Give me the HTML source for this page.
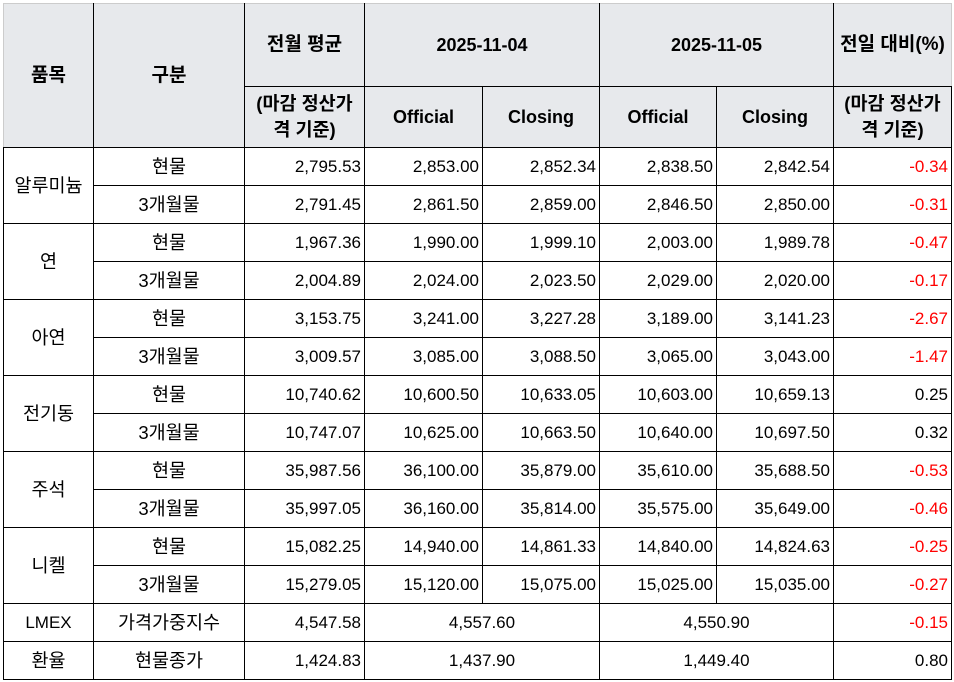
<!DOCTYPE html>
<html><head><meta charset="utf-8"><style>
html,body{margin:0;padding:0;background:#fff;width:954px;height:682px;overflow:hidden}
table{position:absolute;left:3px;top:3px;border-collapse:collapse;table-layout:fixed;width:948px;font-family:"Liberation Sans","Noto Sans CJK KR","NanumGothic",sans-serif;font-size:17px;color:#000}
td{border:1px solid #000;padding:0 3px;height:37px;white-space:nowrap;overflow:hidden;line-height:22px}
.h{background:#e7e9ec;font-weight:bold;text-align:center;font-size:18px}
.c{text-align:center;font-size:18.5px}
.r{text-align:right}
.n{color:#ff0000}
.hd{line-height:26px;font-size:18.5px}
.k{font-size:19px}
</style></head><body>
<table>
<colgroup><col style="width:90px"><col style="width:151px"><col style="width:120px"><col style="width:118px"><col style="width:117px"><col style="width:117px"><col style="width:117px"><col style="width:118px"></colgroup>
<tr><td class="h k" rowspan="2" style="border-top-color:#ccc;border-left-color:#ccc">품목</td><td class="h k" rowspan="2" style="border-top-color:#ccc">구분</td><td class="h k" style="height:82px;border-top-color:#ccc">전월 평균</td><td class="h" colspan="2" style="border-top-color:#ccc">2025-11-04</td><td class="h" colspan="2" style="border-top-color:#ccc">2025-11-05</td><td class="h k" style="border-top-color:#ccc;border-right-color:#ccc">전일 대비(%)</td></tr>
<tr><td class="h hd" style="height:60px;white-space:normal">(마감 정산가<br>격 기준)</td><td class="h">Official</td><td class="h">Closing</td><td class="h">Official</td><td class="h">Closing</td><td class="h hd" style="white-space:normal">(마감 정산가<br>격 기준)</td></tr>
<tr><td class="c" rowspan="2">알루미늄</td><td class="c">현물</td><td class="r">2,795.53</td><td class="r">2,853.00</td><td class="r">2,852.34</td><td class="r">2,838.50</td><td class="r">2,842.54</td><td class="r n">-0.34</td></tr>
<tr><td class="c">3개월물</td><td class="r">2,791.45</td><td class="r">2,861.50</td><td class="r">2,859.00</td><td class="r">2,846.50</td><td class="r">2,850.00</td><td class="r n">-0.31</td></tr>
<tr><td class="c" rowspan="2">연</td><td class="c">현물</td><td class="r">1,967.36</td><td class="r">1,990.00</td><td class="r">1,999.10</td><td class="r">2,003.00</td><td class="r">1,989.78</td><td class="r n">-0.47</td></tr>
<tr><td class="c">3개월물</td><td class="r">2,004.89</td><td class="r">2,024.00</td><td class="r">2,023.50</td><td class="r">2,029.00</td><td class="r">2,020.00</td><td class="r n">-0.17</td></tr>
<tr><td class="c" rowspan="2">아연</td><td class="c">현물</td><td class="r">3,153.75</td><td class="r">3,241.00</td><td class="r">3,227.28</td><td class="r">3,189.00</td><td class="r">3,141.23</td><td class="r n">-2.67</td></tr>
<tr><td class="c">3개월물</td><td class="r">3,009.57</td><td class="r">3,085.00</td><td class="r">3,088.50</td><td class="r">3,065.00</td><td class="r">3,043.00</td><td class="r n">-1.47</td></tr>
<tr><td class="c" rowspan="2">전기동</td><td class="c">현물</td><td class="r">10,740.62</td><td class="r">10,600.50</td><td class="r">10,633.05</td><td class="r">10,603.00</td><td class="r">10,659.13</td><td class="r">0.25</td></tr>
<tr><td class="c">3개월물</td><td class="r">10,747.07</td><td class="r">10,625.00</td><td class="r">10,663.50</td><td class="r">10,640.00</td><td class="r">10,697.50</td><td class="r">0.32</td></tr>
<tr><td class="c" rowspan="2">주석</td><td class="c">현물</td><td class="r">35,987.56</td><td class="r">36,100.00</td><td class="r">35,879.00</td><td class="r">35,610.00</td><td class="r">35,688.50</td><td class="r n">-0.53</td></tr>
<tr><td class="c">3개월물</td><td class="r">35,997.05</td><td class="r">36,160.00</td><td class="r">35,814.00</td><td class="r">35,575.00</td><td class="r">35,649.00</td><td class="r n">-0.46</td></tr>
<tr><td class="c" rowspan="2">니켈</td><td class="c">현물</td><td class="r">15,082.25</td><td class="r">14,940.00</td><td class="r">14,861.33</td><td class="r">14,840.00</td><td class="r">14,824.63</td><td class="r n">-0.25</td></tr>
<tr><td class="c">3개월물</td><td class="r">15,279.05</td><td class="r">15,120.00</td><td class="r">15,075.00</td><td class="r">15,025.00</td><td class="r">15,035.00</td><td class="r n">-0.27</td></tr>
<tr><td class="c" style="font-size:17px">LMEX</td><td class="c">가격가중지수</td><td class="r">4,547.58</td><td class="c" colspan="2" style="font-size:17px">4,557.60</td><td class="c" colspan="2" style="font-size:17px">4,550.90</td><td class="r n">-0.15</td></tr>
<tr><td class="c">환율</td><td class="c">현물종가</td><td class="r">1,424.83</td><td class="c" colspan="2" style="font-size:17px">1,437.90</td><td class="c" colspan="2" style="font-size:17px">1,449.40</td><td class="r">0.80</td></tr>
</table>
</body></html>
